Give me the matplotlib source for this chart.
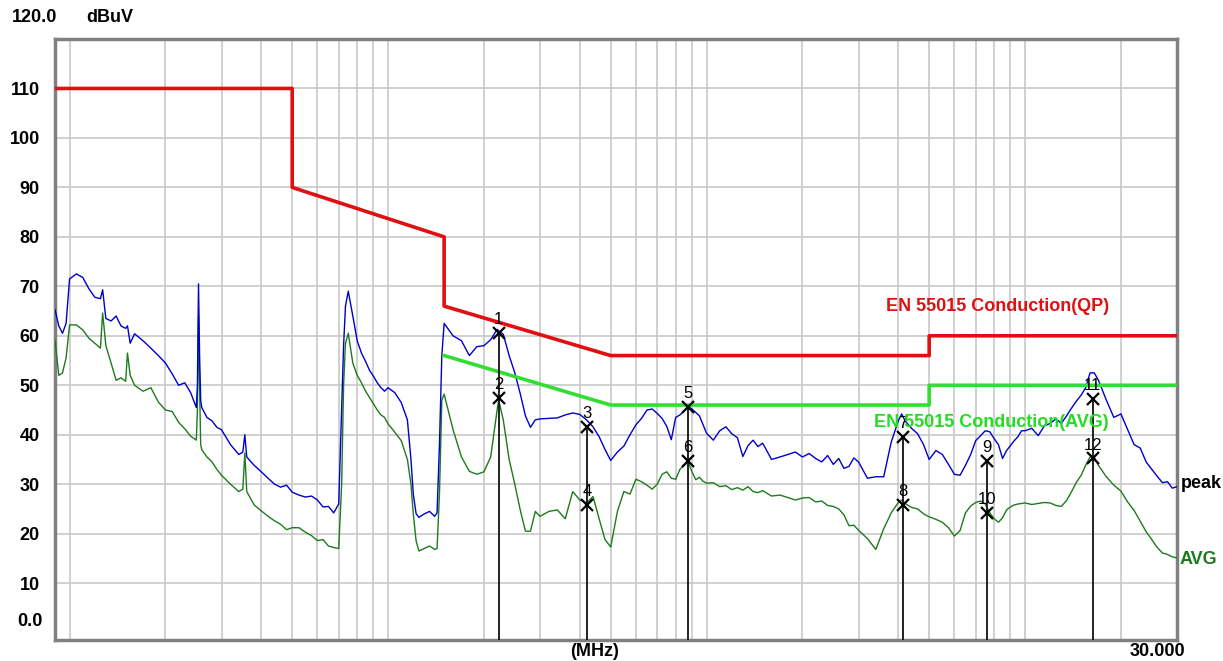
import matplotlib
matplotlib.use("Agg")
import matplotlib.pyplot as plt

# ---------------- data ----------------
freq_mhz = [
    0.009, 0.00925, 0.0095, 0.00975,
    0.010, 0.0105, 0.011, 0.0115, 0.012, 0.0125, 0.0127, 0.013, 0.0135, 0.014,
    0.0145, 0.015, 0.0152, 0.0155, 0.016, 0.017, 0.018, 0.019, 0.020, 0.021,
    0.022, 0.023, 0.024, 0.025, 0.0252, 0.0254, 0.0256, 0.0258, 0.026, 0.027,
    0.028, 0.029, 0.030, 0.032, 0.034, 0.035, 0.0355, 0.036, 0.038, 0.040,
    0.042, 0.044, 0.046, 0.048, 0.050, 0.0525, 0.055, 0.0575, 0.060, 0.0625,
    0.065, 0.0675, 0.070, 0.0715, 0.0725, 0.0735, 0.075, 0.0775, 0.080, 0.0825,
    0.085, 0.0875, 0.090, 0.0925, 0.095, 0.0975,
    0.100, 0.105, 0.110, 0.115, 0.118, 0.120, 0.1225, 0.125, 0.130, 0.135,
    0.140, 0.1425, 0.145, 0.1475, 0.150, 0.160, 0.170, 0.180, 0.190, 0.200,
    0.210, 0.220, 0.2225, 0.230, 0.240, 0.250, 0.260, 0.270, 0.280, 0.290,
    0.300, 0.320, 0.340, 0.360, 0.380, 0.400, 0.420, 0.440, 0.460, 0.480,
    0.500, 0.525, 0.550, 0.575, 0.600, 0.625, 0.650, 0.675, 0.700, 0.725,
    0.750, 0.775, 0.800, 0.825, 0.850, 0.875, 0.900, 0.925, 0.950, 0.975,
    1.00, 1.05, 1.10, 1.15, 1.20, 1.25, 1.30, 1.35, 1.40, 1.45,
    1.50, 1.60, 1.70, 1.80, 1.90, 2.00, 2.10, 2.20, 2.30, 2.40,
    2.50, 2.60, 2.70, 2.80, 2.90, 3.00, 3.20, 3.40, 3.60, 3.80,
    4.00, 4.10, 4.20, 4.40, 4.60, 4.80, 5.00, 5.25, 5.50, 5.75,
    6.00, 6.25, 6.50, 6.75, 7.00, 7.25, 7.50, 7.75, 8.00, 8.25,
    8.50, 8.75, 9.00, 9.25, 9.50, 9.75,
    10.0, 10.5, 11.0, 11.5, 12.0, 12.5, 13.0, 13.5, 14.0, 14.5,
    15.0, 15.5, 16.0, 16.5, 17.0, 18.0, 19.0, 20.0, 21.0, 22.0,
    23.0, 24.0, 25.0, 26.0, 27.0, 28.0, 29.0, 30.0,
]

peak_dbuv = [
    65.3, 62.0, 60.5, 62.5,
    71.5, 72.5, 71.8, 69.5, 67.8, 67.5, 69.3, 63.5, 63.0, 64.0,
    62.0, 61.5, 62.0, 58.5, 60.4, 59.0, 57.5, 56.0, 54.5, 52.3,
    50.0, 50.5, 48.5, 45.5, 50.0, 70.5, 56.0, 47.0, 45.5, 43.5,
    42.8, 41.5, 41.0, 38.0, 36.0, 36.5, 40.0, 35.5, 33.8, 32.5,
    31.2, 30.0, 29.4, 29.8, 28.4, 27.8, 27.4, 27.6, 26.8, 25.4,
    25.5, 24.2, 26.0, 45.0, 58.0, 66.0, 69.0, 64.0, 59.0, 56.5,
    54.8, 53.0, 51.8, 50.5, 49.5, 48.8,
    49.5, 48.5, 46.5, 43.0, 35.0, 28.0, 24.0, 23.3, 24.0, 24.5,
    23.5, 24.2, 38.0, 56.0, 62.5, 60.0, 59.0, 56.0, 57.8, 58.0,
    59.2, 61.3, 61.0, 60.3, 56.0, 52.5, 48.3, 43.8, 41.5, 43.0,
    43.2, 43.3, 43.4, 44.0, 44.4, 44.1, 43.0, 41.6, 39.6, 37.0,
    34.8, 36.5, 37.7, 40.0, 42.0, 43.3, 45.0, 45.2, 44.3, 43.3,
    41.7, 39.0, 43.5, 44.0, 44.8, 45.7, 45.2, 44.5, 43.8, 42.0,
    40.3, 38.9, 40.8, 41.6, 40.2, 39.4, 35.6, 37.8, 38.9, 37.6,
    38.3, 35.0, 35.5, 36.0, 36.5, 35.5, 36.2, 35.2, 34.5, 35.8,
    34.0, 35.2, 33.2, 33.6, 35.3, 34.5, 31.2, 31.5, 31.5, 38.5,
    42.8, 44.2, 42.8, 41.3, 40.2, 38.0, 35.0, 36.8, 36.0, 34.0,
    32.0, 31.8, 33.8, 36.0, 38.8, 39.8, 40.8, 40.6, 39.2, 38.0,
    35.2, 36.8, 37.8, 38.8, 39.6, 40.8,
    40.8, 41.3, 39.8, 41.8, 42.3, 43.2, 42.3, 43.8, 45.4, 46.8,
    48.0, 49.5, 52.5, 52.5, 51.0, 47.0, 43.5, 44.2, 41.0, 38.0,
    37.3, 34.5, 33.0, 31.6, 30.3, 30.5, 29.2, 29.5,
]

avg_dbuv = [
    59.2, 52.0, 52.5, 55.5,
    62.2, 62.2, 61.2, 59.5, 58.5, 57.5, 64.6, 58.0, 54.5, 51.0,
    51.5, 50.8, 56.5, 52.0, 50.0, 48.8, 49.5, 46.6, 45.0, 44.7,
    42.5, 41.2, 39.7, 38.9, 45.0, 64.0, 50.0, 38.0, 37.0, 35.5,
    34.5, 33.0, 31.8, 30.0, 28.5, 29.0, 36.3, 28.5, 25.8, 24.6,
    23.5, 22.6, 21.9, 20.8, 21.2, 21.2, 20.3, 19.6, 18.6, 18.8,
    17.5, 17.2, 17.0, 30.0, 50.0, 58.5, 60.5, 54.5, 52.0, 50.5,
    48.8, 47.5, 46.2, 45.0, 44.0, 43.5,
    42.2, 40.5, 38.8, 35.0, 30.0, 24.0, 18.5, 16.5, 17.0, 17.5,
    16.8, 17.0, 28.0, 47.0, 48.2, 41.0, 35.5, 32.6, 32.0, 32.5,
    35.5, 45.0, 47.0, 43.0, 35.0, 30.0, 24.8, 20.5, 20.5, 24.5,
    23.5, 24.5, 24.8, 23.0, 28.5, 26.8, 26.2, 27.5, 23.0, 18.8,
    17.3, 24.5, 28.5, 28.0, 31.0, 30.5, 29.8, 29.0, 30.0, 32.0,
    32.5, 31.2, 31.0, 33.0, 33.8, 34.5, 32.5, 30.9, 31.4, 30.6,
    30.2, 30.3, 29.5, 29.7, 28.9, 29.3, 28.8, 29.5, 28.5, 28.3,
    28.7, 27.6, 27.8, 27.3, 26.8, 27.2, 27.3, 26.4, 26.6, 25.7,
    25.5, 25.0, 23.8, 21.6, 21.7, 20.7, 19.0, 16.8, 21.0, 24.2,
    26.3, 26.8, 26.1, 25.3, 25.0, 24.0, 23.4, 22.9, 22.3, 21.2,
    19.5, 20.6, 24.2, 25.6, 26.3, 26.6, 26.0, 24.2, 23.0, 22.3,
    23.2, 24.8, 25.4, 25.8, 26.0, 26.1,
    26.2, 25.9, 26.1, 26.3, 26.2, 25.7, 25.5, 26.7, 28.5, 30.4,
    31.8, 33.8, 35.5, 35.5, 33.8, 31.5, 29.8, 28.6, 26.4, 24.7,
    22.5, 20.4, 18.8, 17.2, 16.1, 15.8, 15.3, 15.1,
]

qp_limit_freq = [0.009, 0.05, 0.05, 0.15, 0.15, 0.5, 5.0, 5.0, 30.0]
qp_limit_level = [110, 110, 90, 80, 66, 56, 56, 60, 60]
avg_limit_freq = [0.15, 0.5, 5.0, 5.0, 30.0]
avg_limit_level = [56, 46, 46, 50, 50]

marker_labels = ["1", "2", "3", "4", "5", "6", "7", "8", "9", "10", "11", "12"]
marker_freq = [0.2225, 0.2225, 0.421, 0.421, 0.874, 0.874,
               4.13, 4.13, 7.59, 7.59, 16.3, 16.3]
marker_level = [60.6, 47.4, 41.6, 25.8, 45.7, 34.6,
                39.6, 25.8, 34.7, 24.1, 47.2, 35.2]

y_ticks = [10, 20, 30, 40, 50, 60, 70, 80, 90, 100, 110]
y_tick_labels = ["10", "20", "30", "40", "50", "60", "70", "80", "90", "100", "110"]

# ---------------- figure ----------------
W, H = 1223, 661
plt.rcParams['font.family'] = ['Liberation Sans', 'DejaVu Sans']
fig = plt.figure(figsize=(W / 100, H / 100), dpi=100)
ax = fig.add_axes([55 / W, 1 - 640 / H, (1177 - 55) / W, (640 - 39) / H])

ax.set_xscale('log')
ax.set_xlim(0.009, 30)
ax.set_ylim(-1.5, 120)

grid_c = '#c8c8c8'
ax.set_xticks([], minor=False)
minor = []
for dec in [0.01, 0.1, 1, 10]:
    for m in range(1, 10):
        v = dec * m
        if v <= 30:
            minor.append(v)
ax.set_xticks(minor, minor=True)
ax.xaxis.set_minor_formatter(matplotlib.ticker.NullFormatter())
ax.tick_params(axis='x', which='both', length=0, labelbottom=False)
ax.grid(True, which='minor', axis='x', color=grid_c, lw=1.2)
ax.set_yticks(y_ticks)
ax.set_yticklabels(y_tick_labels, fontsize=13, fontweight='bold')
ax.tick_params(axis='y', length=0, pad=11)
ax.grid(True, which='major', axis='y', color=grid_c, lw=1.2)
ax.set_axisbelow(True)

for s in ax.spines.values():
    s.set_color('#808080')
    s.set_linewidth(2.5)

# traces
ax.plot(freq_mhz, avg_dbuv, color='#1d7a1d', lw=1.0, zorder=3)
ax.plot(freq_mhz, peak_dbuv, color='#0000cc', lw=1.0, zorder=3)

# limits
ax.plot(qp_limit_freq, qp_limit_level, color='#e01010', lw=2.6, zorder=4)
ax.plot(avg_limit_freq, avg_limit_level, color='#33dd33', lw=2.6, zorder=4)

ax.text(3.66, 65.9, "EN 55015 Conduction(QP)", color='#dd1111', fontsize=13,
        fontweight='bold', ha='left', va='center', zorder=5)
ax.text(3.35, 42.4, "EN 55015 Conduction(AVG)", color='#22dd22', fontsize=13,
        fontweight='bold', ha='left', va='center', zorder=7)

# markers
for i in range(0, len(marker_freq), 2):
    ax.vlines(marker_freq[i], -1.5, marker_level[i], color='#111111', lw=1.3, zorder=5)
ax.plot(marker_freq, marker_level, 'x', color='black', ms=9, mew=1.6, zorder=6)
for f, lv, lab in zip(marker_freq, marker_level, marker_labels):
    ax.text(f, lv + 1.2, lab, ha='center', va='bottom', fontsize=12,
            color='black', zorder=6)

# outer labels
def ftxt(x, y, s, **kw):
    fig.text(x / W, 1 - y / H, s, **kw)

ftxt(12, 17, "120.0", fontsize=13, fontweight='bold', va='center', ha='left')
ftxt(86, 17, "dBuV", fontsize=13, fontweight='bold', va='center', ha='left')
ftxt(43, 622, "0.0", fontsize=13, fontweight='bold', va='center', ha='right')
ftxt(595, 651, "(MHz)", fontsize=13, fontweight='bold', va='center', ha='center')
ftxt(1157, 651, "30.000", fontsize=13, fontweight='bold', va='center', ha='center')
ftxt(1181, 483, "peak", fontsize=13, fontweight='bold', va='center', ha='left', color='black')
ftxt(1180, 559, "AVG", fontsize=13, fontweight='bold', va='center', ha='left', color='#1d7a1d')

fig.savefig("out.png", dpi=100)
